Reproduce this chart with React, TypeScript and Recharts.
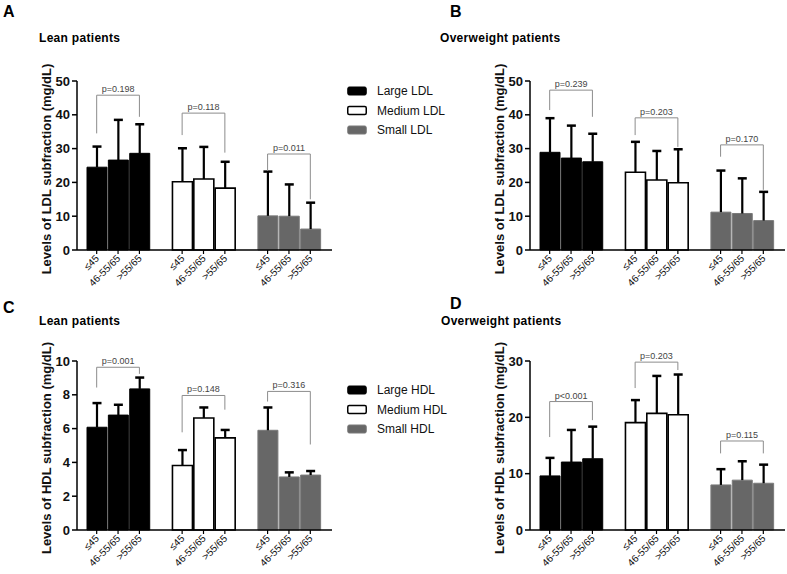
import React from 'react';
import { BarChart, Bar, XAxis, YAxis, Cell, ReferenceLine } from 'recharts';

const FONT = 'Arial, "Liberation Sans", Helvetica, sans-serif';

// x categories inside every fraction group
const AGE_GROUPS = ['≤45', '46-55/65', '>55/65'];
const LDL_FRACTIONS = ['Large LDL', 'Medium LDL', 'Small LDL'];
const HDL_FRACTIONS = ['Large HDL', 'Medium HDL', 'Small HDL'];
const FRACTION_FILLS = ['#000000', '#ffffff', '#676767'];
const FRACTION_STROKES = ['#000000', '#000000', '#7a7a7a'];

// A - lean patients, LDL (mean and upper SD)
const LEAN_LDL_MEAN = [24.5, 26.6, 28.6, 20.2, 21.0, 18.3, 10.1, 10.0, 6.2];
const LEAN_LDL_SD = [6.1, 11.9, 8.6, 9.9, 9.5, 7.8, 13.1, 9.4, 7.8];
const LEAN_LDL_P = ['p=0.198', 'p=0.118', 'p=0.011'];
// [bracket top, left leg end, right leg end]
const LEAN_LDL_BRACKETS = [[45.8, 34.5, 39.4], [40.5, 34.0, 28.8], [28.4, 23.4, 15.0]];

// B - overweight patients, LDL
const OVER_LDL_MEAN = [28.9, 27.2, 26.1, 23.0, 20.7, 19.9, 11.2, 10.8, 8.7];
const OVER_LDL_SD = [10.1, 9.6, 8.3, 9.0, 8.6, 9.9, 12.3, 10.4, 8.5];
const OVER_LDL_P = ['p=0.239', 'p=0.203', 'p=0.170'];
const OVER_LDL_BRACKETS = [[47.3, 41.4, 39.4], [39.1, 34.0, 30.5], [31.1, 27.6, 17.8]];

// C - lean patients, HDL
const LEAN_HDL_MEAN = [6.08, 6.8, 8.35, 3.82, 6.63, 5.45, 5.9, 3.14, 3.25];
const LEAN_HDL_SD = [1.43, 0.61, 0.67, 0.91, 0.62, 0.47, 1.35, 0.27, 0.24];
const LEAN_HDL_P = ['p=0.001', 'p=0.148', 'p=0.316'];
const LEAN_HDL_BRACKETS = [[9.63, 8.43, 9.24], [7.96, 5.78, 7.12], [8.2, 7.6, 5.06]];

// D - overweight patients, HDL
const OVER_HDL_MEAN = [9.6, 12.06, 12.65, 19.06, 20.7, 20.47, 8.0, 8.85, 8.3];
const OVER_HDL_SD = [3.2, 5.7, 5.7, 4.0, 6.65, 7.13, 2.8, 3.35, 3.3];
const OVER_HDL_P = ['p<0.001', 'p=0.203', 'p=0.115'];
const OVER_HDL_BRACKETS = [[22.8, 16.5, 19.5], [29.8, 25.2, 28.4], [15.8, 13.6, 13.6]];

const LDL_TICKS = [0, 10, 20, 30, 40, 50];
const LEAN_HDL_TICKS = [0, 2, 4, 6, 8, 10];
const OVER_HDL_TICKS = [0, 10, 20, 30];

const rowKey = (f: string, a: string) => `${f}|${a}`;

function buildRows(fractions: string[], mean: number[], sd: number[]) {
  const rows: any[] = [];
  fractions.forEach((f, fi) => {
    if (fi > 0) rows.push({ key: `gap-${fi}`, label: '' });
    AGE_GROUPS.forEach((a, ai) => {
      const i = fi * 3 + ai;
      rows.push({ key: rowKey(f, a), label: a, fraction: fi, mean: mean[i], sd: sd[i] });
    });
  });
  return rows;
}

const ErrorWhisker = (props: any) => {
  const { x, y, width, height } = props;
  const sd = props.payload ? props.payload.sd : props.sd;
  if (sd == null || !height) return null;
  const cx = x + width / 2;
  const top = Math.min(y, y + height);
  const bottom = Math.max(y, y + height);
  return (
    <g>
      <line x1={cx} x2={cx} y1={bottom} y2={top} stroke="#000" strokeWidth={2.2} />
      <line x1={cx - 4.5} x2={cx + 4.5} y1={top} y2={top} stroke="#000" strokeWidth={2.5} />
    </g>
  );
};

const makeAgeTick = (rows: any[]) => (props: any) => {
  const { x, y, payload } = props;
  const row = rows.find(r => r.key === payload.value);
  if (!row || !row.label) return null;
  const ax = x + 3;
  const ay = y + 9;
  return (
    <g>
      <line x1={x} x2={x} y1={y} y2={y + 4} stroke="#000" strokeWidth={1.2} />
      <text x={ax} y={ay} textAnchor="end" transform={`rotate(-45 ${ax} ${ay})`}
        fontSize={10} fontFamily={FONT} fill="#111">{row.label}</text>
    </g>
  );
};

interface PanelProps {
  left: number;
  top: number;
  height: number;
  fractions: string[];
  mean: number[];
  sd: number[];
  pValues: string[];
  brackets: number[][];
  yMax: number;
  yTicks: number[];
}

const Panel = ({ left, top, height, fractions, mean, sd, pValues, brackets, yMax, yTicks }: PanelProps) => {
  const rows = buildRows(fractions, mean, sd);
  const bracketStroke = '#8c8c8c';
  return (
    <div style={{ position: 'absolute', left, top }}>
      <BarChart width={334} height={height} data={rows} barSize={20}
        margin={{ top: 81, right: 2, bottom: height - 290, left: 20 }}>
        <XAxis dataKey="key" interval={0} height={40} padding={{ left: 9, right: 11 }}
          axisLine={{ stroke: '#000', strokeWidth: 1.5 }} tickLine={false} tickSize={0} tickMargin={0}
          tick={makeAgeTick(rows)} />
        <YAxis domain={[0, yMax]} ticks={yTicks} width={57} interval={0}
          axisLine={{ stroke: '#000', strokeWidth: 1.5 }} tickLine={{ stroke: '#000', strokeWidth: 1.5 }}
          tickSize={5} tickMargin={2}
          tick={{ fontSize: 13, fontWeight: 'bold', fill: '#111', fontFamily: FONT }} />
        <Bar dataKey="mean" stackId="s" isAnimationActive={false}>
          {rows.map(r => (
            <Cell key={r.key}
              fill={FRACTION_FILLS[r.fraction ?? 0]}
              stroke={FRACTION_STROKES[r.fraction ?? 0]}
              strokeWidth={r.fraction === 1 ? 1.6 : 1} />
          ))}
        </Bar>
        <Bar dataKey="sd" stackId="s" isAnimationActive={false} shape={ErrorWhisker} />
        {fractions.map((f, gi) => {
          const k1 = rowKey(f, AGE_GROUPS[0]);
          const k3 = rowKey(f, AGE_GROUPS[2]);
          const [yTop, yLeft, yRight] = brackets[gi];
          return (
            <React.Fragment key={f}>
              <ReferenceLine segment={[{ x: k1, y: yTop }, { x: k3, y: yTop }]} stroke={bracketStroke}
                strokeWidth={1} ifOverflow="visible"
                label={{ value: pValues[gi], position: 'top', offset: 3, fontSize: 9, fill: '#444', fontFamily: FONT }} />
              <ReferenceLine segment={[{ x: k1, y: yTop }, { x: k1, y: yLeft }]} stroke={bracketStroke}
                strokeWidth={1} ifOverflow="visible" />
              <ReferenceLine segment={[{ x: k3, y: yTop }, { x: k3, y: yRight }]} stroke={bracketStroke}
                strokeWidth={1} ifOverflow="visible" />
            </React.Fragment>
          );
        })}
      </BarChart>
    </div>
  );
};

const Legend = ({ x, y, items }: { x: number; y: number; items: string[] }) => (
  <g>
    {items.map((name, i) => {
      const cy = y + i * 19.5;
      return (
        <g key={name}>
          <rect x={x + 0.75} y={cy - 4} width={18.5} height={8} rx={1.5}
            fill={FRACTION_FILLS[i]} stroke={FRACTION_STROKES[i]} strokeWidth={i === 1 ? 1.5 : 1} />
          <text x={x + 30} y={cy + 4.3} fontSize={12} fontFamily={FONT} fill="#111">{name}</text>
        </g>
      );
    })}
  </g>
);

const YTitle = ({ axisX, cy, text }: { axisX: number; cy: number; text: string }) => {
  const bx = axisX - 26;
  return (
    <text x={bx} y={cy} textAnchor="middle" transform={`rotate(-90 ${bx} ${cy})`}
      fontSize={13} fontWeight="bold" fontFamily={FONT} fill="#111">{text}</text>
  );
};

export default function App() {
  return (
    <div style={{ position: 'absolute', left: 0, top: 0, width: 787, height: 574, overflow: 'hidden', background: '#fff' }}>
      <Panel left={0} top={0} height={300} fractions={LDL_FRACTIONS} mean={LEAN_LDL_MEAN} sd={LEAN_LDL_SD}
        pValues={LEAN_LDL_P} brackets={LEAN_LDL_BRACKETS} yMax={50} yTicks={LDL_TICKS} />
      <Panel left={453} top={0} height={300} fractions={LDL_FRACTIONS} mean={OVER_LDL_MEAN} sd={OVER_LDL_SD}
        pValues={OVER_LDL_P} brackets={OVER_LDL_BRACKETS} yMax={50} yTicks={LDL_TICKS} />
      <Panel left={0} top={280} height={294} fractions={HDL_FRACTIONS} mean={LEAN_HDL_MEAN} sd={LEAN_HDL_SD}
        pValues={LEAN_HDL_P} brackets={LEAN_HDL_BRACKETS} yMax={10} yTicks={LEAN_HDL_TICKS} />
      <Panel left={453} top={280} height={294} fractions={HDL_FRACTIONS} mean={OVER_HDL_MEAN} sd={OVER_HDL_SD}
        pValues={OVER_HDL_P} brackets={OVER_HDL_BRACKETS} yMax={30} yTicks={OVER_HDL_TICKS} />
      <svg width={787} height={574} style={{ position: 'absolute', left: 0, top: 0, pointerEvents: 'none' }}>
        <g fontFamily={FONT} fill="#000" fontWeight="bold">
          <text x={3} y={17} fontSize={16}>A</text>
          <text x={450} y={17} fontSize={16}>B</text>
          <text x={3} y={313} fontSize={16}>C</text>
          <text x={450} y={309} fontSize={16}>D</text>
          <text x={39} y={42} fontSize={12} letterSpacing={0.3}>Lean patients</text>
          <text x={440} y={42} fontSize={12} letterSpacing={0.3}>Overweight patients</text>
          <text x={39} y={325} fontSize={12} letterSpacing={0.3}>Lean patients</text>
          <text x={441} y={325} fontSize={12} letterSpacing={0.3}>Overweight patients</text>
        </g>
        <YTitle axisX={77} cy={169} text="Levels of LDL subfraction (mg/dL)" />
        <YTitle axisX={530} cy={169} text="Levels of LDL subfraction (mg/dL)" />
        <YTitle axisX={77} cy={448} text="Levels of HDL subfraction (mg/dL)" />
        <YTitle axisX={530} cy={448} text="Levels of HDL subfraction (mg/dL)" />
        <Legend x={347} y={91} items={LDL_FRACTIONS} />
        <Legend x={347} y={390} items={HDL_FRACTIONS} />
      </svg>
    </div>
  );
}
